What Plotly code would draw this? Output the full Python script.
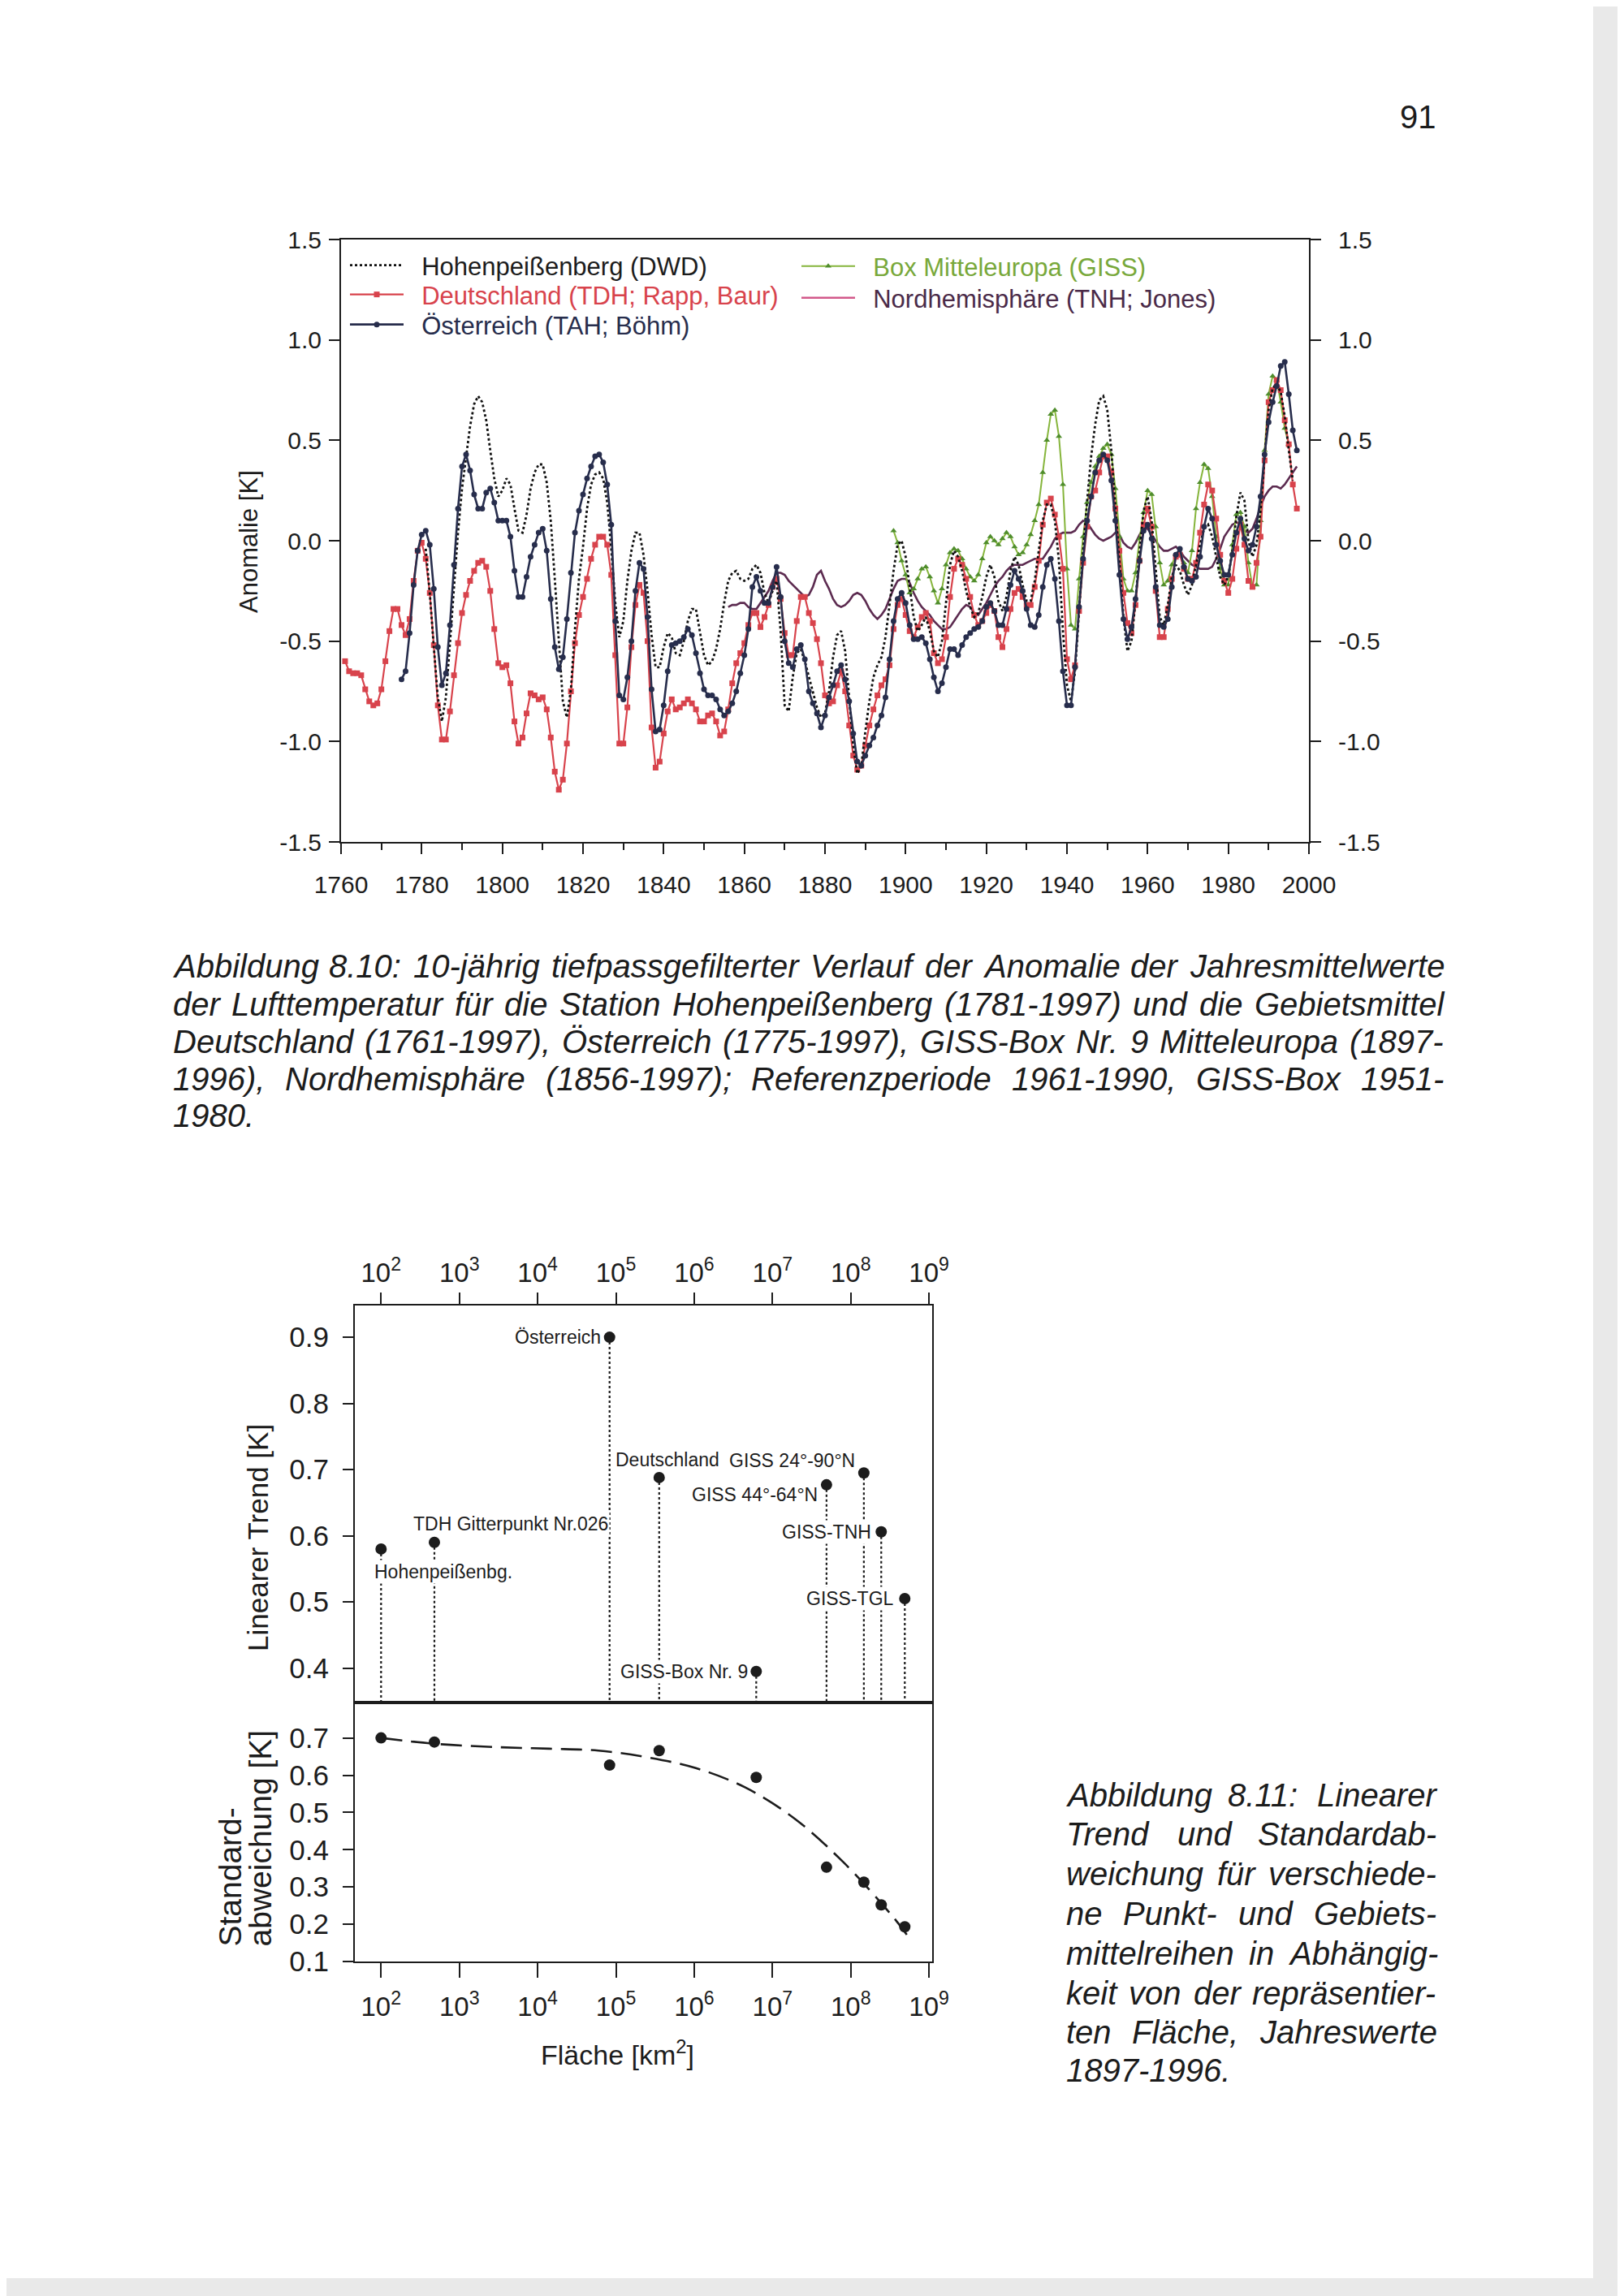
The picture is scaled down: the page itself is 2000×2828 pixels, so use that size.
import math
import plotly.graph_objects as go

# ---------------- Abbildung 8.10 data (10-year low-pass anomalies, K) ----------------
de_start = 1761  # Deutschland (TDH; Rapp, Baur)
de_vals = [-0.60, -0.65, -0.66, -0.66, -0.67, -0.74, -0.80, -0.82, -0.81, -0.74,
           -0.60, -0.45, -0.34, -0.34, -0.42, -0.47, -0.39, -0.20, -0.05, -0.01,
           -0.09, -0.26, -0.52, -0.82, -0.99, -0.99, -0.85, -0.67, -0.51, -0.36,
           -0.27, -0.20, -0.15, -0.11, -0.10, -0.13, -0.25, -0.44, -0.61, -0.63,
           -0.62, -0.71, -0.90, -1.01, -0.98, -0.86, -0.76, -0.77, -0.79, -0.78,
           -0.84, -0.98, -1.15, -1.24, -1.19, -1.01, -0.75, -0.51, -0.37, -0.28,
           -0.19, -0.09, -0.02, 0.02, 0.02, -0.02, -0.17, -0.57, -1.01, -1.01,
           -0.83, -0.53, -0.32, -0.22, -0.26, -0.50, -0.93, -1.13, -1.10, -0.96,
           -0.85, -0.79, -0.84, -0.83, -0.81, -0.79, -0.81, -0.84, -0.90, -0.90,
           -0.87, -0.86, -0.90, -0.97, -0.95, -0.84, -0.71, -0.61, -0.56, -0.51,
           -0.42, -0.36, -0.36, -0.43, -0.38, -0.32, -0.23, -0.19, -0.29, -0.46,
           -0.57, -0.57, -0.40, -0.28, -0.28, -0.36, -0.41, -0.49, -0.61, -0.77,
           -0.81, -0.80, -0.72, -0.65, -0.75, -0.92, -1.07, -1.14, -1.12, -1.02,
           -0.92, -0.84, -0.77, -0.72, -0.69, -0.62, -0.44, -0.32, -0.29, -0.37,
           -0.45, -0.48, -0.43, -0.38, -0.36, -0.40, -0.56, -0.61, -0.59, -0.48,
           -0.28, -0.14, -0.09, -0.12, -0.19, -0.28, -0.37, -0.42, -0.40, -0.36,
           -0.32, -0.35, -0.48, -0.53, -0.44, -0.34, -0.26, -0.24, -0.28, -0.32,
           -0.32, -0.23, -0.10, 0.08, 0.19, 0.21, 0.13, 0.02, -0.14, -0.59,
           -0.69, -0.62, -0.35, -0.11, 0.07, 0.22, 0.25, 0.34, 0.42, 0.42,
           0.34, 0.16, -0.05, -0.26, -0.41, -0.46, -0.32, -0.10, 0.08, 0.16,
           0.07, -0.25, -0.48, -0.48, -0.34, -0.19, -0.08, -0.07, -0.14, -0.19,
           -0.19, -0.11, 0.04, 0.18, 0.28, 0.25, 0.11, -0.07, -0.20, -0.26,
           -0.19, -0.04, 0.08, -0.02, -0.20, -0.23, -0.11, 0.02, 0.40, 0.69,
           0.75, 0.80, 0.75, 0.60, 0.48, 0.28, 0.16]

at_start = 1775  # Österreich (TAH; Böhm)
at_vals = [-0.69, -0.65, -0.46, -0.22, -0.05, 0.03,
           0.05, -0.02, -0.24, -0.53, -0.72, -0.66, -0.42, -0.12, 0.16, 0.37,
           0.43, 0.35, 0.23, 0.16, 0.16, 0.24, 0.26, 0.19, 0.10, 0.10,
           0.10, 0.02, -0.15, -0.28, -0.28, -0.18, -0.08, -0.02, 0.04, 0.06,
           -0.05, -0.29, -0.53, -0.64, -0.58, -0.39, -0.16, 0.04, 0.15, 0.23,
           0.31, 0.37, 0.42, 0.43, 0.39, 0.28, 0.08, -0.40, -0.77, -0.79,
           -0.68, -0.50, -0.25, -0.11, -0.14, -0.38, -0.74, -0.95, -0.94, -0.82,
           -0.65, -0.52, -0.51, -0.50, -0.48, -0.44, -0.47, -0.56, -0.66, -0.74,
           -0.77, -0.77, -0.79, -0.84, -0.87, -0.85, -0.81, -0.75, -0.66, -0.57,
           -0.44, -0.23, -0.18, -0.25, -0.31, -0.31, -0.23, -0.13, -0.28, -0.50,
           -0.61, -0.63, -0.54, -0.52, -0.59, -0.75, -0.81, -0.86, -0.93, -0.87,
           -0.78, -0.72, -0.65, -0.62, -0.69, -0.80, -0.96, -1.10, -1.12, -1.07,
           -1.02, -0.98, -0.92, -0.87, -0.78, -0.59, -0.40, -0.29, -0.26, -0.31,
           -0.42, -0.49, -0.49, -0.48, -0.51, -0.59, -0.68, -0.75, -0.71, -0.63,
           -0.54, -0.54, -0.57, -0.52, -0.48, -0.46, -0.44, -0.43, -0.40, -0.33,
           -0.31, -0.35, -0.42, -0.42, -0.34, -0.22, -0.15, -0.19, -0.25, -0.34,
           -0.42, -0.43, -0.37, -0.23, -0.12, -0.09, -0.19, -0.40, -0.65, -0.82,
           -0.82, -0.63, -0.33, -0.09, 0.10, 0.22, 0.34, 0.40, 0.43, 0.40,
           0.30, 0.10, -0.17, -0.39, -0.49, -0.43, -0.29, -0.10, 0.05, 0.08,
           0.01, -0.23, -0.42, -0.43, -0.39, -0.23, -0.07, -0.04, -0.13, -0.19,
           -0.20, -0.18, -0.08, 0.07, 0.16, 0.11, -0.02, -0.10, -0.17, -0.17,
           -0.07, 0.04, 0.11, 0.01, -0.05, -0.02, 0.07, 0.22, 0.43, 0.59,
           0.69, 0.77, 0.87, 0.89, 0.73, 0.55, 0.45]

hpb_start = 1781  # Hohenpeißenberg (DWD)
hpb_vals = [-0.04, -0.26, -0.53, -0.78, -0.90, -0.78, -0.51, -0.23, 0.04, 0.26,
            0.42, 0.57, 0.68, 0.72, 0.69, 0.60, 0.45, 0.31, 0.22, 0.25,
            0.31, 0.28, 0.16, 0.05, 0.04, 0.13, 0.26, 0.34, 0.38, 0.38,
            0.29, 0.10, -0.19, -0.50, -0.80, -0.88, -0.74, -0.44, -0.19, -0.03,
            0.16, 0.28, 0.33, 0.34, 0.31, 0.19, -0.04, -0.31, -0.48, -0.40,
            -0.20, -0.05, 0.04, 0.04, -0.07, -0.25, -0.47, -0.63, -0.63, -0.53,
            -0.46, -0.48, -0.56, -0.57, -0.50, -0.40, -0.34, -0.34, -0.46, -0.57,
            -0.62, -0.60, -0.54, -0.44, -0.31, -0.20, -0.16, -0.15, -0.19, -0.20,
            -0.19, -0.14, -0.12, -0.16, -0.26, -0.31, -0.25, -0.20, -0.45, -0.82,
            -0.85, -0.68, -0.56, -0.54, -0.60, -0.68, -0.76, -0.83, -0.88, -0.86,
            -0.75, -0.58, -0.47, -0.45, -0.55, -0.78, -1.02, -1.16, -1.12, -0.95,
            -0.80, -0.68, -0.62, -0.58, -0.48, -0.32, -0.15, -0.02, 0.00, -0.08,
            -0.22, -0.38, -0.45, -0.42, -0.38, -0.45, -0.55, -0.58, -0.50, -0.30,
            -0.12, -0.05, -0.08, -0.15, -0.25, -0.33, -0.38, -0.36, -0.28, -0.18,
            -0.12, -0.18, -0.30, -0.35, -0.28, -0.15, -0.08, -0.12, -0.22, -0.30,
            -0.30, -0.20, -0.05, 0.10, 0.18, 0.18, 0.10, -0.10, -0.45, -0.72,
            -0.80, -0.65, -0.35, -0.05, 0.20, 0.42, 0.58, 0.70, 0.72, 0.65,
            0.45, 0.18, -0.12, -0.38, -0.55, -0.50, -0.30, -0.05, 0.15, 0.22,
            0.10, -0.15, -0.38, -0.42, -0.32, -0.18, -0.12, -0.15, -0.22, -0.27,
            -0.22, -0.12, -0.02, 0.06, 0.08, 0.02, -0.08, -0.18, -0.22, -0.18,
            -0.05, 0.12, 0.24, 0.20, 0.00, -0.08, -0.02, 0.15, 0.42, 0.65,
            0.76, 0.78, 0.74, 0.62, 0.45, 0.30]

giss_start = 1897  # Box Mitteleuropa (GISS)
giss_vals = [0.05, -0.01, -0.10, -0.17,
             -0.26, -0.24, -0.19, -0.14, -0.13, -0.18, -0.25, -0.31, -0.24, -0.12,
             -0.06, -0.04, -0.05, -0.09, -0.14, -0.18, -0.20, -0.17, -0.09, -0.01,
             0.02, 0.00, -0.02, 0.01, 0.04, 0.02, -0.03, -0.07, -0.06, -0.02,
             0.03, 0.10, 0.18, 0.34, 0.50, 0.63, 0.65, 0.52, 0.28, -0.14,
             -0.42, -0.44, -0.19, 0.02, 0.19, 0.29, 0.37, 0.42, 0.46, 0.48,
             0.43, 0.26, 0.02, -0.19, -0.25, -0.25, -0.16, 0.01, 0.14, 0.25,
             0.23, 0.07, -0.11, -0.22, -0.20, -0.12, -0.07, -0.07, -0.11, -0.16,
             -0.05, 0.16, 0.29, 0.38, 0.36, 0.22, 0.02, -0.14, -0.22, -0.22,
             -0.02, 0.13, 0.14, 0.07, -0.11, -0.23, -0.22, 0.10, 0.45, 0.73,
             0.82, 0.80, 0.69, 0.56, 0.48]

nh_start = 1856  # Nordhemisphäre (TNH; Jones)
nh_vals = [-0.33, -0.32, -0.32, -0.31, -0.31,
           -0.33, -0.34, -0.34, -0.31, -0.28, -0.25, -0.20, -0.16, -0.16, -0.17,
           -0.20, -0.22, -0.24, -0.26, -0.28, -0.27, -0.23, -0.17, -0.15, -0.20,
           -0.24, -0.29, -0.32, -0.33, -0.32, -0.30, -0.27, -0.26, -0.27, -0.30,
           -0.34, -0.37, -0.39, -0.37, -0.34, -0.29, -0.24, -0.20, -0.19, -0.19,
           -0.21, -0.26, -0.30, -0.33, -0.35, -0.37, -0.40, -0.42, -0.44, -0.44,
           -0.43, -0.40, -0.37, -0.34, -0.32, -0.33, -0.36, -0.37, -0.34, -0.31,
           -0.27, -0.23, -0.20, -0.18, -0.15, -0.13, -0.12, -0.12, -0.12, -0.11,
           -0.10, -0.09, -0.09, -0.09, -0.06, -0.03, 0.01, 0.03, 0.04, 0.04,
           0.04, 0.05, 0.08, 0.10, 0.09, 0.06, 0.03, 0.01, 0.00, 0.01,
           0.02, 0.04, 0.03, -0.01, -0.03, -0.04, -0.01, 0.03, 0.06, 0.06,
           0.03, 0.00, -0.03, -0.05, -0.05, -0.04, -0.03, -0.05, -0.08, -0.10,
           -0.12, -0.13, -0.14, -0.14, -0.14, -0.13, -0.09, -0.04, 0.02, 0.05,
           0.08, 0.09, 0.09, 0.05, 0.04, 0.06, 0.11, 0.17, 0.22, 0.25,
           0.27, 0.27, 0.26, 0.28, 0.31, 0.34, 0.37]

anom_ticks = [-1.5, -1.0, -0.5, 0.0, 0.5, 1.0, 1.5]
anom_tick_text = ["-1.5", "-1.0", "-0.5", "0.0", "0.5", "1.0", "1.5"]

# ---------------- Abbildung 8.11 data ----------------
series_names = ["Hohenpeißenbg.", "TDH Gitterpunkt Nr.026", "Österreich", "Deutschland",
                "GISS-Box Nr. 9", "GISS 44°-64°N", "GISS 24°-90°N", "GISS-TNH", "GISS-TGL"]
area_km2 = [100, 480, 83000, 357000, 6.2e6, 4.9e7, 1.47e8, 2.45e8, 4.9e8]
trend_K = [0.580, 0.590, 0.900, 0.688, 0.395, 0.677, 0.695, 0.606, 0.505]
std_K = [0.700, 0.689, 0.627, 0.666, 0.594, 0.353, 0.313, 0.252, 0.193]
fit_area = [1e2, 5e2, 3.3e3, 1.4e4, 6e4, 2.5e5, 1.05e6, 4.5e6, 1.9e7, 8e7, 3.4e8, 5.2e8]
fit_std = [0.700, 0.684, 0.675, 0.671, 0.666, 0.648, 0.619, 0.567, 0.484, 0.367, 0.222, 0.172]
area_ticks = [1e2, 1e3, 1e4, 1e5, 1e6, 1e7, 1e8, 1e9]
area_tick_text = ["10<sup>2</sup>", "10<sup>3</sup>", "10<sup>4</sup>", "10<sup>5</sup>",
                  "10<sup>6</sup>", "10<sup>7</sup>", "10<sup>8</sup>", "10<sup>9</sup>"]
trend_ticks = [0.4, 0.5, 0.6, 0.7, 0.8, 0.9]
trend_tick_text = ["0.4", "0.5", "0.6", "0.7", "0.8", "0.9"]
std_ticks = [0.1, 0.2, 0.3, 0.4, 0.5, 0.6, 0.7]
std_tick_text = ["0.1", "0.2", "0.3", "0.4", "0.5", "0.6", "0.7"]

# ---------------- captions ----------------
caption_810 = [
    "Abbildung 8.10: 10-jährig tiefpassgefilterter Verlauf der Anomalie der Jahresmittelwerte",
    "der Lufttemperatur für die Station Hohenpeißenberg (1781-1997) und die Gebietsmittel",
    "Deutschland (1761-1997), Österreich (1775-1997), GISS-Box Nr. 9 Mitteleuropa (1897-",
    "1996), Nordhemisphäre (1856-1997); Referenzperiode 1961-1990, GISS-Box 1951-",
    "1980.",
]
caption_811 = [
    "Abbildung 8.11: Linearer",
    "Trend und Standardab-",
    "weichung für verschiede-",
    "ne Punkt- und Gebiets-",
    "mittelreihen in Abhängig-",
    "keit von der repräsentier-",
    "ten Fläche, Jahreswerte",
    "1897-1996.",
]

# ---------------- layout helpers ----------------
W, H = 2000, 2828
OFF = 8  # the page body adds an 8px offset; compensate so positions match the page
FONT = "Liberation Sans, Arial, sans-serif"
INK = "#1c1c1c"
NB = "\u00a0\u00a0"  # small gap between legend sample and legend text


def px(x):
    return (x - OFF) / W


def py(y):
    return 1 - (y - OFF) / H


AW = {' ': 278, '!': 278, '(': 333, ')': 333, ',': 278, '-': 333, '.': 278, ':': 278, ';': 278,
      '°': 400, '[': 278, ']': 278}
for ch in "0123456789":
    AW[ch] = 556
AW.update(dict(zip("ABCDEFGHIJKLMNOPQRSTUVWXYZ",
                   [667, 667, 722, 722, 667, 611, 778, 722, 278, 500, 667, 556, 833, 722, 778,
                    667, 778, 722, 667, 611, 722, 667, 944, 667, 667, 611])))
AW.update(dict(zip("abcdefghijklmnopqrstuvwxyz",
                   [556, 556, 500, 556, 556, 278, 556, 556, 222, 222, 500, 222, 833, 556, 556,
                    556, 556, 333, 500, 278, 556, 500, 722, 500, 500, 500])))
AW.update({'ä': 556, 'ö': 556, 'ü': 556, 'ß': 611, 'Ö': 778, 'Ä': 667, 'Ü': 722})


def tw(s, size):
    return sum(AW.get(c, 556) for c in s) * size / 1000.0


annotations = []


def justified(line, x0, x1, yc, size, justify=True):
    words = line.split()
    widths = [tw(w, size) for w in words]
    if justify and len(words) > 1:
        gap = (x1 - x0 - sum(widths)) / (len(words) - 1)
    else:
        gap = tw(' ', size)
    x = x0
    for w, wd in zip(words, widths):
        annotations.append(dict(text=w, x=px(x), y=py(yc), xref="paper", yref="paper",
                                xanchor="left", yanchor="middle", showarrow=False, borderpad=1,
                                font=dict(family=FONT, size=size, color=INK, style="italic")))
        x += wd + gap


fig = go.Figure()


def yrs(start, vals):
    return list(range(start, start + len(vals)))


RED = "#d8434c"
NAVY = "#272d4c"
GREEN_LINE = "#86b53c"
GREEN_MARK = "#4f8d2c"
PURPLE = "#5c2b50"

# ---------------- Abbildung 8.10 traces ----------------
fig.add_trace(go.Scatter(x=yrs(nh_start, nh_vals), y=nh_vals, mode="lines",
                         line=dict(color=PURPLE, width=2.6), showlegend=False,
                         xaxis="x", yaxis="y", hoverinfo="skip"))
fig.add_trace(go.Scatter(x=yrs(giss_start, giss_vals), y=giss_vals, mode="lines+markers",
                         line=dict(color=GREEN_LINE, width=2),
                         marker=dict(symbol="triangle-up", size=7, color=GREEN_MARK),
                         name=NB + '<span style="color:#78a83a">Box Mitteleuropa (GISS)</span>',
                         legend="legend2", xaxis="x", yaxis="y"))
fig.add_trace(go.Scatter(x=[None], y=[None], mode="lines",
                         line=dict(color="#d2598a", width=2.5),
                         name=NB + '<span style="color:#4a2a48">Nordhemisphäre (TNH; Jones)</span>',
                         legend="legend5", xaxis="x", yaxis="y"))
fig.add_trace(go.Scatter(x=yrs(de_start, de_vals), y=de_vals, mode="lines+markers",
                         line=dict(color=RED, width=2.2),
                         marker=dict(symbol="square", size=7, color=RED),
                         name=NB + '<span style="color:#d8434c">Deutschland (TDH; Rapp, Baur)</span>',
                         legend="legend3", xaxis="x", yaxis="y"))
fig.add_trace(go.Scatter(x=yrs(hpb_start, hpb_vals), y=hpb_vals, mode="lines",
                         line=dict(color="#111111", width=2.8, dash="dot"),
                         name=NB + '<span style="color:#1c1c1c">Hohenpeißenberg (DWD)</span>',
                         legend="legend", xaxis="x", yaxis="y"))
fig.add_trace(go.Scatter(x=yrs(at_start, at_vals), y=at_vals, mode="lines+markers",
                         line=dict(color=NAVY, width=2.6),
                         marker=dict(symbol="circle", size=7, color=NAVY),
                         name=NB + '<span style="color:#272d4c">Österreich (TAH; Böhm)</span>',
                         legend="legend4", xaxis="x", yaxis="y"))
fig.add_trace(go.Scatter(x=[None], y=[None], mode="lines", showlegend=False,
                         xaxis="x", yaxis="y2", hoverinfo="skip"))

# ---------------- Abbildung 8.11 traces ----------------
trend_floor = 0.348
drop_x, drop_y = [], []
for a, t in zip(area_km2, trend_K):
    drop_x += [a, a, None]
    drop_y += [t, trend_floor, None]
fig.add_trace(go.Scatter(x=drop_x, y=drop_y, mode="lines",
                         line=dict(color=INK, width=2.2, dash="dot"), showlegend=False,
                         xaxis="x2", yaxis="y3", hoverinfo="skip"))
fig.add_trace(go.Scatter(x=area_km2, y=trend_K, mode="markers",
                         marker=dict(color=INK, size=14), showlegend=False,
                         xaxis="x2", yaxis="y3"))
fig.add_trace(go.Scatter(x=fit_area, y=fit_std, mode="lines", line_shape="spline",
                         line=dict(color=INK, width=2.6, dash="26px,11px"), showlegend=False,
                         xaxis="x3", yaxis="y4", hoverinfo="skip"))
fig.add_trace(go.Scatter(x=area_km2, y=std_K, mode="markers",
                         marker=dict(color=INK, size=14), showlegend=False,
                         xaxis="x3", yaxis="y4"))

label_place = [("left", -10, -28), ("left", -28, 23), ("right", -9, 0), ("center", 10, 22),
               ("right", -8, 0), ("right", -9, -12), ("right", -9, 15), ("right", -10, 0),
               ("right", -11, 0)]
for name, a, t, (anc, dx, dy) in zip(series_names, area_km2, trend_K, label_place):
    annotations.append(dict(text=name, x=math.log10(a), y=t, xref="x2", yref="y3",
                            xanchor=anc, yanchor="middle", xshift=dx, yshift=dy,
                            showarrow=False, bgcolor="white", borderpad=1,
                            font=dict(family=FONT, size=23, color=INK)))

# ---------------- axis titles & other texts ----------------
annotations.append(dict(text="Anomalie [K]", x=px(307), y=py(667), xref="paper", yref="paper",
                        textangle=-90, showarrow=False, xanchor="center", yanchor="middle",
                        font=dict(family=FONT, size=31, color=INK)))
annotations.append(dict(text="Linearer Trend [K]", x=px(317), y=py(1894), xref="paper", yref="paper",
                        textangle=-90, showarrow=False, xanchor="center", yanchor="middle",
                        font=dict(family=FONT, size=35, color=INK)))
annotations.append(dict(text="Standard-", x=px(283), y=py(2400), xref="paper",
                        yref="paper", textangle=-90, showarrow=False, xanchor="center",
                        yanchor="bottom", font=dict(family=FONT, size=39, color=INK)))
annotations.append(dict(text="abweichung [K]", x=px(320), y=py(2400), xref="paper",
                        yref="paper", textangle=-90, showarrow=False, xanchor="center",
                        yanchor="bottom", font=dict(family=FONT, size=39, color=INK)))
annotations.append(dict(text="Fläche [km<sup>2</sup>]", x=px(760), y=py(2528), xref="paper",
                        yref="paper", showarrow=False, xanchor="center", yanchor="middle",
                        font=dict(family=FONT, size=34, color=INK)))
annotations.append(dict(text="91", x=px(1746), y=py(144), xref="paper", yref="paper",
                        showarrow=False, xanchor="center", yanchor="middle",
                        font=dict(family=FONT, size=40, color=INK)))

cap1_y = [1190, 1237, 1283, 1329, 1374]
for i, (line, yc) in enumerate(zip(caption_810, cap1_y)):
    justified(line, 211, 1776, yc, 40, justify=(i < len(caption_810) - 1))
cap2_y = [2211, 2259, 2308, 2357, 2406, 2455, 2503, 2550]
for i, (line, yc) in enumerate(zip(caption_811, cap2_y)):
    justified(line, 1311, 1767, yc, 40, justify=(i < len(caption_811) - 1))

axis_common = dict(showline=True, linecolor=INK, linewidth=2, ticks="outside", tickcolor=INK,
                   tickwidth=2, showgrid=False, zeroline=False, automargin=False)


def legend_at(x, yc):
    return dict(x=px(x), y=py(yc - 26), xanchor="left", yanchor="top",
                bgcolor="rgba(0,0,0,0)", font=dict(family=FONT, size=31), itemwidth=66)


fig.update_layout(
    width=W, height=H, margin=dict(l=0, r=0, t=0, b=0, autoexpand=False),
    paper_bgcolor="white", plot_bgcolor="white",
    font=dict(family=FONT, color=INK),
    xaxis=dict(domain=[px(420), px(1612)], range=[1760, 2000], tick0=1760, dtick=20,
               ticklen=13, mirror=True, anchor="y", tickfont=dict(size=30),
               ticklabelstandoff=12,
               minor=dict(ticks="outside", ticklen=8, tickwidth=2, tickcolor=INK, dtick=10,
                          tick0=1760),
               **axis_common),
    yaxis=dict(domain=[py(1037), py(295)], range=[-1.5, 1.5], tickvals=anom_ticks,
               ticktext=anom_tick_text, ticklen=13, mirror=True, anchor="x",
               tickfont=dict(size=30), ticklabelstandoff=3, **axis_common),
    yaxis2=dict(domain=[py(1037), py(295)], range=[-1.5, 1.5], tickvals=anom_ticks,
                ticktext=anom_tick_text, ticklen=13, overlaying="y", side="right", anchor="x",
                tickfont=dict(size=30), ticklabelstandoff=15, **axis_common),
    xaxis2=dict(type="log", domain=[px(437), px(1148)], range=[1.665, 9.04], side="top",
                anchor="y3", tickvals=area_ticks, ticktext=area_tick_text, ticklen=14,
                mirror=True, tickfont=dict(size=33), ticklabelstandoff=0, **axis_common),
    yaxis3=dict(domain=[py(2097), py(1608)], range=[trend_floor, 0.948], tickvals=trend_ticks,
                ticktext=trend_tick_text, ticklen=13, mirror=True, anchor="x2",
                tickfont=dict(size=35), ticklabelstandoff=10, **axis_common),
    xaxis3=dict(type="log", domain=[px(437), px(1148)], range=[1.665, 9.04], side="bottom",
                anchor="y4", tickvals=area_ticks, ticktext=area_tick_text, ticklen=18,
                mirror=True, tickfont=dict(size=33), ticklabelstandoff=7, **axis_common),
    yaxis4=dict(domain=[py(2416), py(2097)], range=[0.1, 0.795], tickvals=std_ticks,
                ticktext=std_tick_text, ticklen=13, mirror=True, anchor="x3",
                tickfont=dict(size=35), ticklabelstandoff=10, **axis_common),
    legend=legend_at(426, 326),
    legend3=legend_at(426, 362),
    legend4=legend_at(426, 399),
    legend2=legend_at(982, 327),
    legend5=legend_at(982, 366),
    annotations=annotations,
    shapes=[
        dict(type="rect", xref="paper", yref="paper", x0=px(1962), x1=1.01, y0=-0.01, y1=1.01,
             fillcolor="#e9e9e9", line=dict(width=0), layer="below"),
        dict(type="rect", xref="paper", yref="paper", x0=-0.01, x1=1.01, y0=-0.01, y1=py(2806),
             fillcolor="#e9e9e9", line=dict(width=0), layer="below"),
    ],
    showlegend=True,
)

fig.write_html("out.html")
